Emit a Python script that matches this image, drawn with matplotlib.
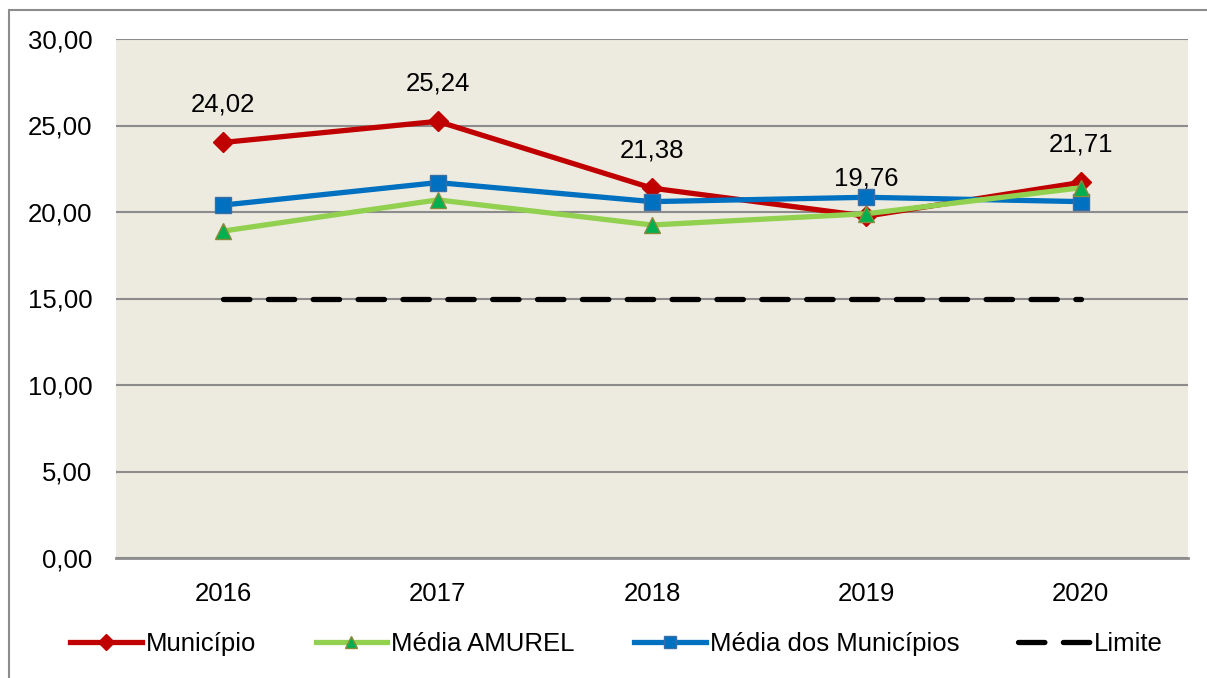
import numpy as np
import matplotlib
matplotlib.use('Agg')
import matplotlib.pyplot as plt
from matplotlib.patches import Rectangle

plt.rcParams['font.family'] = ['Liberation Sans', 'DejaVu Sans']

years = ['2016', '2017', '2018', '2019', '2020']
municipio = [24.02, 25.24, 21.38, 19.76, 21.71]
media_amurel = [18.9, 20.7, 19.25, 19.9, 21.4]
media_municipios = [20.4, 21.7, 20.6, 20.85, 20.6]
limite = [15.0, 15.0, 15.0, 15.0, 15.0]
yticks = [0, 5, 10, 15, 20, 25, 30]

fig = plt.figure(figsize=(12.07, 6.78), dpi=100)
ax = fig.add_axes([116/1207, 1 - 558/678, 1072/1207, 519/678])

# outer frame (cropped chart border)
fig.patches.append(Rectangle((9/1207, -0.1), 1.2, 1 - 10/678 + 0.1,
                             transform=fig.transFigure, fill=False,
                             edgecolor='#8c8c8c', linewidth=1.5))

x = np.arange(len(years))
ax.set_facecolor('#EDEBE0')

ax.plot(x, municipio, color='#C00000', lw=3.8, marker='D', ms=10.5,
        markerfacecolor='#C00000', markeredgecolor='#C00000', label='Município', zorder=4)
ax.plot(x, media_amurel, color='#92D050', lw=3.8, marker='^', ms=11,
        markerfacecolor='#00B050', markeredgecolor='#8A8A3A', label='Média AMUREL', zorder=5)
ax.plot(x, media_municipios, color='#0070C0', lw=3.8, marker='s', ms=11,
        markerfacecolor='#0070C0', markeredgecolor='#3A6EA5', label='Média dos Municípios', zorder=4)
ax.plot(x, limite, color='black', lw=3.8, dashes=(5, 3.5), dash_capstyle='round',
        label='Limite', zorder=3)

for xi, v in zip(x, municipio):
    ax.annotate(f'{v:.2f}'.replace('.', ','), (xi, v), xytext=(0, 27),
                textcoords='offset points', ha='center', va='center', fontsize=18.5)

ax.set_xlim(-0.5, len(years) - 0.5)
ax.set_ylim(0, 30)
ax.set_yticks(yticks)
ax.set_yticklabels([f'{t:.2f}'.replace('.', ',') for t in yticks], fontsize=18.5)
ax.set_xticks(x)
ax.set_xticklabels(years, fontsize=18.5)
ax.tick_params(length=0)
ax.tick_params(axis='x', pad=17)
ax.tick_params(axis='y', pad=17)
ax.grid(axis='y', color='#8c8c8c', lw=1.5)
ax.set_axisbelow(True)
for s in ['top', 'right', 'left']:
    ax.spines[s].set_visible(False)
ax.spines['bottom'].set_color('#8c8c8c')
ax.spines['bottom'].set_linewidth(2)

ax.legend(loc='center', bbox_to_anchor=(0.467, -0.165), ncol=4, frameon=False,
          fontsize=18.5, handlelength=2.8, handletextpad=0.15, columnspacing=2.3,
          borderaxespad=0, markerscale=0.75)

fig.savefig('out.png', dpi=100)
